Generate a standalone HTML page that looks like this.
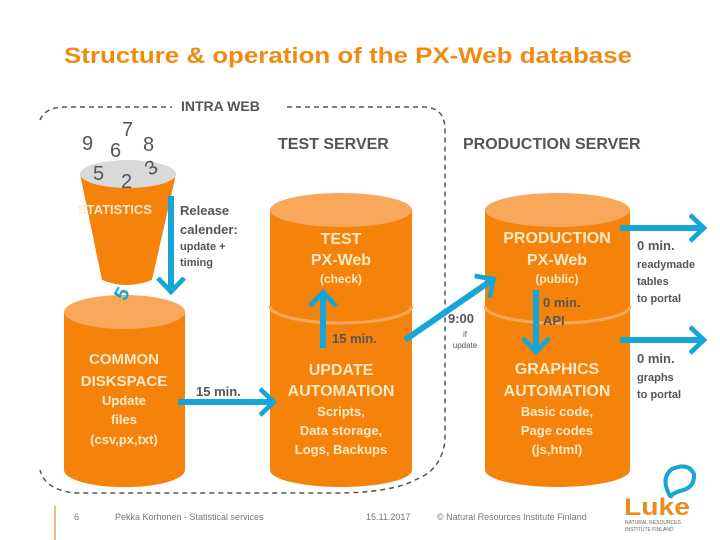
<!DOCTYPE html>
<html><head><meta charset="utf-8"><style>
html,body{margin:0;padding:0;background:#fff;}
svg{display:block;font-family:"Liberation Sans",Arial,sans-serif;}
</style></head><body>
<svg width="720" height="540" viewBox="0 0 720 540" xmlns="http://www.w3.org/2000/svg">
<defs>
<marker id="ah" markerWidth="4" markerHeight="5" refX="2.2" refY="2.5" orient="auto" markerUnits="strokeWidth">
<path d="M0.2,0.3 L2.5,2.5 L0.2,4.7" fill="none" stroke="#17a4d6" stroke-width="0.8" stroke-linejoin="miter"/>
</marker>
</defs>
<text x="64" y="63" font-size="22" font-weight="bold" fill="#f08a12" textLength="568" lengthAdjust="spacingAndGlyphs">Structure &amp; operation of the PX-Web database</text>

<!-- dashed boundary -->
<path d="M40,120 Q45,108 62,107 L172,107 M287,107 L425,107 Q445,108 445,130 L445,440 Q442,470 415,480 Q390,493 335,493 L75,493 Q45,490 40,470" fill="none" stroke="#555" stroke-width="1.5" stroke-dasharray="5,4"/>
<text x="181" y="111" font-size="14" font-weight="bold" fill="#555">INTRA WEB</text>
<text x="278" y="149" font-size="16" font-weight="bold" fill="#555">TEST SERVER</text>
<text x="463" y="149" font-size="16" font-weight="bold" fill="#555">PRODUCTION SERVER</text>

<!-- funnel -->
<path d="M80,174 L176,174 L152,280 Q126,290 102,280 Z" fill="#f5820a"/>
<ellipse cx="128" cy="174" rx="48" ry="14" fill="#d9d9d9"/>
<g font-size="20" fill="#555">
<text x="82" y="150">9</text><text x="110" y="157">6</text><text x="122" y="136">7</text><text x="143" y="151">8</text>
<text x="93" y="180">5</text><text x="121" y="188">2</text><text x="146" y="174" transform="rotate(-30 152 168)">3</text>
</g>
<text x="78" y="214" font-size="13" font-weight="bold" fill="#fdebc8">STATISTICS</text>

<!-- cylinders -->
<g>
<path d="M64,312 L64,470 A60,17 0 0 0 185,470 L185,312 Z" fill="#f5820a"/>
<ellipse cx="124.5" cy="312" rx="60.5" ry="17" fill="#f9a75a"/>
</g>
<g>
<path d="M270,210 L270,470 A71,17 0 0 0 412,470 L412,210 Z" fill="#f5820a"/>
<ellipse cx="341" cy="210" rx="71" ry="17" fill="#f9a75a"/>
<path d="M270,306 A71,17 0 0 0 412,306" fill="none" stroke="#f9a75a" stroke-width="3"/>
</g>
<g>
<path d="M485,210 L485,470 A72.5,17 0 0 0 630,470 L630,210 Z" fill="#f5820a"/>
<ellipse cx="557.5" cy="210" rx="72.5" ry="17" fill="#f9a75a"/>
<path d="M485,306 A72.5,17 0 0 0 630,306" fill="none" stroke="#f9a75a" stroke-width="3"/>
</g>

<!-- cylinder texts -->
<g font-weight="bold" fill="#fdebc8" text-anchor="middle">
<text x="124" y="364" font-size="15">COMMON</text>
<text x="124" y="386" font-size="15">DISKSPACE</text>
<text x="124" y="405" font-size="13">Update</text>
<text x="124" y="424" font-size="13">files</text>
<text x="124" y="444" font-size="13">(csv,px,txt)</text>
<text x="341" y="244" font-size="16">TEST</text>
<text x="341" y="265" font-size="16">PX-Web</text>
<text x="341" y="283" font-size="12">(check)</text>
<text x="341" y="375" font-size="16">UPDATE</text>
<text x="341" y="396" font-size="16">AUTOMATION</text>
<text x="341" y="416" font-size="13">Scripts,</text>
<text x="341" y="435" font-size="13">Data storage,</text>
<text x="341" y="454" font-size="13">Logs, Backups</text>
<text x="557" y="243" font-size="16">PRODUCTION</text>
<text x="557" y="265" font-size="16">PX-Web</text>
<text x="557" y="283" font-size="12">(public)</text>
<text x="557" y="374" font-size="16">GRAPHICS</text>
<text x="557" y="396" font-size="16">AUTOMATION</text>
<text x="557" y="416" font-size="13">Basic code,</text>
<text x="557" y="435" font-size="13">Page codes</text>
<text x="557" y="454" font-size="13">(js,html)</text>
</g>

<!-- arrows -->
<g stroke="#17a4d6" stroke-width="6" fill="none" marker-end="url(#ah)">
<line x1="171" y1="196" x2="171" y2="290"/>
<line x1="178" y1="402" x2="272" y2="402"/>
<line x1="323" y1="348" x2="323" y2="294"/>
<line x1="405" y1="340" x2="492" y2="280"/>
<line x1="536" y1="290" x2="536" y2="350"/>
<line x1="620" y1="228" x2="702" y2="228"/>
<line x1="620" y1="340" x2="702" y2="340"/>
</g>
<text x="118" y="306" font-size="20" font-weight="bold" fill="#17a4d6" transform="rotate(-60 118 298)">5</text>

<!-- labels -->
<g fill="#555" font-weight="bold">
<text x="180" y="215" font-size="13">Release</text>
<text x="180" y="234" font-size="13">calender:</text>
<text x="180" y="250" font-size="11">update +</text>
<text x="180" y="266" font-size="11">timing</text>
<text x="196" y="396" font-size="13">15 min.</text>
<text x="332" y="343" font-size="13">15 min.</text>
<text x="448" y="323" font-size="13">9:00</text>
<text x="543" y="307" font-size="13">0 min.</text>
<text x="543" y="325" font-size="13">API</text>
<text x="637" y="250" font-size="13">0 min.</text>
<text x="637" y="268" font-size="11">readymade</text>
<text x="637" y="285" font-size="11">tables</text>
<text x="637" y="302" font-size="11">to portal</text>
<text x="637" y="363" font-size="13">0 min.</text>
<text x="637" y="381" font-size="11">graphs</text>
<text x="637" y="398" font-size="11">to portal</text>
</g>
<text x="465" y="337" font-size="8" fill="#555" text-anchor="middle">if</text>
<text x="465" y="348" font-size="8" fill="#555" text-anchor="middle">update</text>

<!-- footer -->
<line x1="55" y1="506" x2="55" y2="540" stroke="#f5a050" stroke-width="1.5"/>
<g font-size="9" fill="#777">
<text x="74" y="520">6</text>
<text x="115" y="520">Pekka Korhonen - Statistical services</text>
<text x="366" y="520">15.11.2017</text>
<text x="437" y="520">© Natural Resources Institute Finland</text>
</g>
<!-- logo -->
<path d="M670,496 Q660,478 672,469 Q688,462 694,474 Q695,488 680,491 Q672,493 670,498" fill="none" stroke="#17a4d6" stroke-width="4"/>
<text x="624" y="515" font-size="24" font-weight="bold" fill="#ef8a1f" textLength="66" lengthAdjust="spacingAndGlyphs">Luke</text>
<text x="625" y="524" font-size="5" fill="#666">NATURAL RESOURCES</text>
<text x="625" y="531" font-size="5" fill="#666">INSTITUTE FINLAND</text>
</svg>
</body></html>
